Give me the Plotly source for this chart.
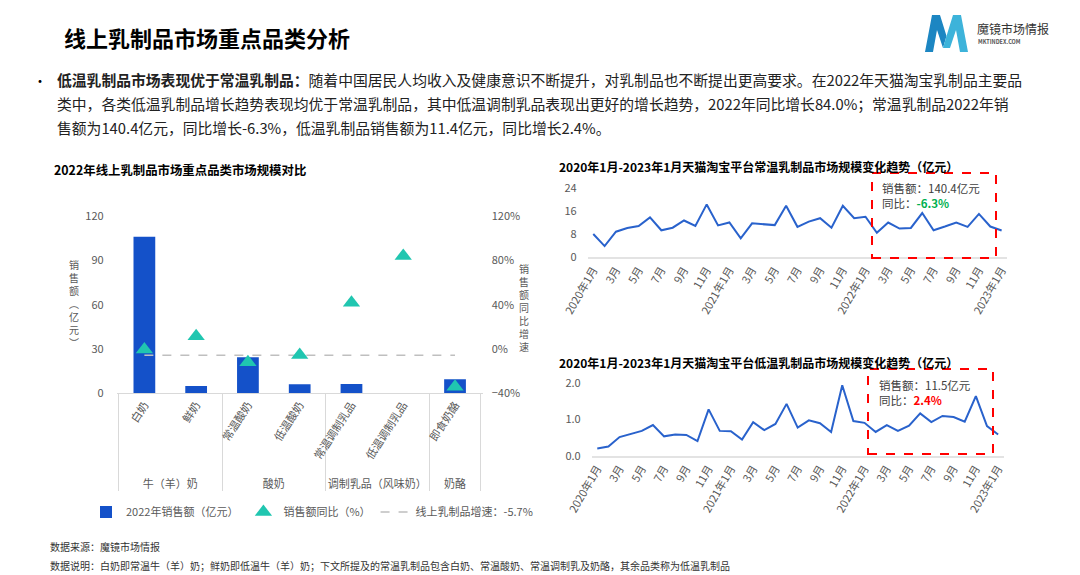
import plotly.graph_objects as go

W, H = 1080, 575


def px(x):
    return x / W


def py(y):
    return 1 - y / H


FONT = "Noto Sans CJK SC"
GRAY = "#595959"

# ---------------- data ----------------
categories = ["白奶", "鲜奶", "常温酸奶", "低温酸奶", "常温调制乳品", "低温调制乳品", "即食奶酪"]
groups = ["牛（羊）奶", "牛（羊）奶", "酸奶", "酸奶", "调制乳品（风味奶）", "调制乳品（风味奶）", "奶酪"]
sales_2022 = [106.0, 4.9, 24.4, 6.1, 6.3, 0.2, 9.5]           # 亿元
yoy_growth = [-0.5, 11.5, -12.0, -5.4, 41.8, 84.0, -34.0]      # %
market_growth = [-5.7, -5.7, -5.7, -5.7, -5.7, -5.7, -5.7]     # %

ambient_sales = [8.1, 3.9, 8.9, 10.2, 10.9, 13.9, 9.4, 10.3, 12.8, 10.9,
                 18.4, 11.1, 12.1, 6.6, 11.8, 11.6, 11.2, 17.9, 10.6, 12.4,
                 13.6, 10.3, 17.9, 13.6, 14.1, 8.5, 12.1, 10.0, 10.2, 15.4,
                 9.4, 10.7, 12.1, 10.6, 15.1, 10.7, 9.3]
chilled_sales = [0.20, 0.25, 0.51, 0.59, 0.68, 0.84, 0.53, 0.58, 0.57, 0.40,
                 1.27, 0.68, 0.67, 0.44, 0.92, 0.70, 0.87, 1.42, 0.77, 0.97,
                 0.89, 0.65, 1.93, 0.95, 0.90, 0.65, 0.84, 0.68, 0.82, 1.16,
                 0.92, 1.09, 1.06, 0.93, 1.63, 0.81, 0.58]
years = [2020] * 12 + [2021] * 12 + [2022] * 12 + [2023]
months = list(range(1, 13)) * 3 + [1]
month_labels = [f"{y}年{m}月" for y, m in zip(years, months)]
tick_labels = ["2020年1月", "3月", "5月", "7月", "9月", "11月",
               "2021年1月", "3月", "5月", "7月", "9月", "11月",
               "2022年1月", "3月", "5月", "7月", "9月", "11月", "2023年1月"]

fig = go.Figure()

# ---------------- left combo chart ----------------
fig.add_trace(go.Bar(
    x=[groups, categories], y=sales_2022, name="2022年销售额（亿元）",
    marker=dict(color="#1451C9", line=dict(width=0)), width=0.42,
    xaxis="x", yaxis="y", legendrank=1,
))
fig.add_trace(go.Scatter(
    x=[groups, categories], y=market_growth, mode="lines",
    name="线上乳制品增速：-5.7%",
    line=dict(color="#BFBFBF", dash="dash", width=1.5),
    xaxis="x", yaxis="y2", legendrank=3,
))
fig.add_trace(go.Scatter(
    x=[groups, categories], y=yoy_growth, mode="markers",
    name="销售额同比（%）",
    marker=dict(symbol="triangle-up", size=15, color="#20C6B0"),
    xaxis="x", yaxis="y2", legendrank=2,
))

# ---------------- right line charts ----------------
fig.add_trace(go.Scatter(
    x=month_labels, y=ambient_sales, mode="lines",
    line=dict(color="#2962CC", width=2), xaxis="x2", yaxis="y3", showlegend=False,
))
fig.add_trace(go.Scatter(
    x=month_labels, y=chilled_sales, mode="lines",
    line=dict(color="#2962CC", width=2), xaxis="x3", yaxis="y4", showlegend=False,
))

tickfont = dict(family=FONT, size=11, color=GRAY)

fig.update_layout(
    width=W, height=H,
    margin=dict(l=0, r=0, t=0, b=0, autoexpand=False),
    paper_bgcolor="white", plot_bgcolor="white",
    font=dict(family=FONT, color="#333333"),
    bargap=0.6,
    xaxis=dict(
        domain=[px(116.7), px(482.7)], anchor="y", type="multicategory",
        showline=True, linecolor="#D9D9D9", linewidth=1,
        showdividers=True, dividercolor="#D9D9D9", dividerwidth=1,
        tickangle=-57, tickfont=tickfont, showgrid=False, ticks="",
        automargin=False,
    ),
    yaxis=dict(
        domain=[py(393.3), py(216)], range=[0, 120], dtick=30,
        showgrid=False, zeroline=False, tickfont=tickfont, ticklabelstandoff=12,
        automargin=False,
    ),
    yaxis2=dict(
        overlaying="y", side="right", anchor="x", range=[-40, 120], dtick=40,
        ticksuffix="%", showgrid=False, zeroline=False, tickfont=tickfont,
        ticklabelstandoff=8, automargin=False,
    ),
    xaxis2=dict(
        domain=[px(587.6), px(1007.3)], anchor="y3", type="category",
        range=[-0.5, 36.5], tickmode="array", tickvals=month_labels[::2],
        ticktext=tick_labels, tickangle=-60, tickfont=tickfont,
        showline=True, linecolor="#E3E3E3", linewidth=2, showgrid=False, ticks="",
        automargin=False,
    ),
    yaxis3=dict(
        domain=[py(257.3), py(188.3)], anchor="x2", range=[0, 24], dtick=8,
        showgrid=False, zeroline=False, tickfont=tickfont, ticklabelstandoff=10,
        automargin=False,
    ),
    xaxis3=dict(
        domain=[px(591.7), px(1003.7)], anchor="y4", type="category",
        range=[-0.5, 36.5], tickmode="array", tickvals=month_labels[::2],
        ticktext=tick_labels, tickangle=-60, tickfont=tickfont,
        showline=True, linecolor="#E3E3E3", linewidth=2, showgrid=False, ticks="",
        automargin=False,
    ),
    yaxis4=dict(
        domain=[py(455.7), py(382.7)], anchor="x3", range=[0, 2], dtick=1,
        tickformat=".1f", showgrid=False, zeroline=False, tickfont=tickfont,
        ticklabelstandoff=10, automargin=False,
    ),
    legend=dict(
        orientation="h", x=px(86), y=py(512), xanchor="left", yanchor="middle",
        font=dict(family=FONT, size=11, color=GRAY), bgcolor="rgba(0,0,0,0)",
        traceorder="normal",
    ),
)

ann = []


def text(x, y, s, size=12, color="#333333", xanchor="left", bold=False, align="left"):
    ann.append(dict(
        x=px(x), y=py(y), xref="paper", yref="paper", text=f"<b>{s}</b>" if bold else s,
        showarrow=False, xanchor=xanchor, yanchor="middle", align=align,
        font=dict(family=FONT, size=size, color=color),
    ))


# header
text(62, 37, "线上乳制品市场重点品类分析", size=22, color="#000000", bold=True)
text(975, 29, "魔镜市场情报", size=12, color="#333333")
text(976, 42, "MKTINDEX.COM", size=5.5, color="#555555", bold=True)
text(31, 80, "•", size=14, color="#000000")
text(55, 80, "<b>低温乳制品市场表现优于常温乳制品：</b>随着中国居民人均收入及健康意识不断提升，对乳制品也不断提出更高要求。在2022年天猫淘宝乳制品主要品",
     size=14.8, color="#222222")
text(55, 104, "类中，各类低温乳制品增长趋势表现均优于常温乳制品，其中低温调制乳品表现出更好的增长趋势，2022年同比增长84.0%；常温乳制品2022年销",
     size=14.8, color="#222222")
text(55, 127, "售额为140.4亿元，同比增长-6.3%，低温乳制品销售额为11.4亿元，同比增长2.4%。",
     size=14.8, color="#222222")

# chart titles
text(52, 170, "2022年线上乳制品市场重点品类市场规模对比", size=12.4, color="#000000", bold=True)
text(557, 166, "2020年1月-2023年1月天猫淘宝平台常温乳制品市场规模变化趋势（亿元）", size=12, color="#000000", bold=True)
text(557, 362, "2020年1月-2023年1月天猫淘宝平台低温乳制品市场规模变化趋势（亿元）", size=12, color="#000000", bold=True)

# stacked vertical axis titles
text(74, 303, "<br>".join("销售额︵亿元︶"), size=10, color=GRAY, xanchor="center", align="center")
text(524, 307, "<br>".join("销售额同比增速"), size=10, color=GRAY, xanchor="center", align="center")

# callout texts
text(880, 195, "销售额：140.4亿元<br>同比：<b><span style='color:#00B050'>-6.3%</span></b>",
     size=11.5, color="#404040")
text(877, 392, "销售额：11.5亿元<br>同比：<b><span style='color:#FF0000'>2.4%</span></b>",
     size=11.5, color="#404040")

# footer
text(48, 546, "数据来源：魔镜市场情报", size=10, color="#333333")
text(48, 565, "数据说明：白奶即常温牛（羊）奶；鲜奶即低温牛（羊）奶；下文所提及的常温乳制品包含白奶、常温酸奶、常温调制乳及奶酪，其余品类称为低温乳制品",
     size=10, color="#333333")

fig.update_layout(annotations=ann)

# shapes: callout boxes and logo
shapes = []
for (x0, x1, y0, y1) in [(872, 996, 173, 258), (868, 993, 369, 454)]:
    shapes.append(dict(type="rect", xref="paper", yref="paper",
                       x0=px(x0), x1=px(x1), y0=py(y1), y1=py(y0),
                       line=dict(color="#FF0000", width=2, dash="dash"),
                       fillcolor="rgba(0,0,0,0)", layer="above"))


def path(points):
    return "M " + " L ".join(f"{px(a):.5f},{py(b):.5f}" for a, b in points) + " Z"


logo_left = [(925, 52), (932, 15), (940, 15), (946.5, 36), (943, 48), (937, 30), (933, 52)]
logo_right = [(946.5, 36), (953, 15), (961, 15), (968, 52), (960, 52), (956, 30), (950, 48), (943, 48)]
shapes.append(dict(type="path", xref="paper", yref="paper", path=path(logo_left),
                   fillcolor="#1C86C2", line=dict(width=0)))
shapes.append(dict(type="path", xref="paper", yref="paper", path=path(logo_right),
                   fillcolor="#3DB3DA", line=dict(width=0)))
fig.update_layout(shapes=shapes)

fig.write_html("out.html")
